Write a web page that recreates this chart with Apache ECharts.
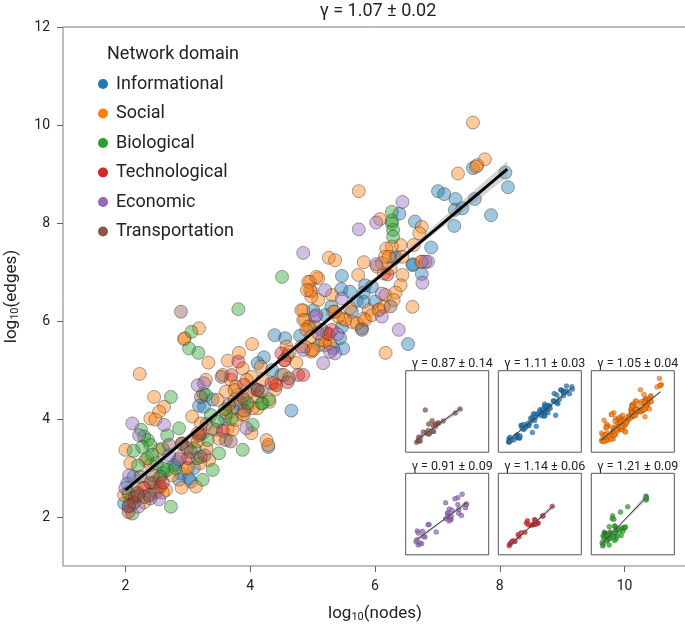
<!DOCTYPE html>
<html>
<head>
<meta charset="utf-8">
<script src="https://cdn.jsdelivr.net/npm/echarts@6/dist/echarts.min.js"></script>
<style>
  html, body { margin: 0; padding: 0; background: #fff; }
  #chart { width: 685px; height: 629px; }
</style>
</head>
<body>
<div id="chart"></div>
<script>
// domains, in legend order
const domains = ['Informational', 'Social', 'Biological', 'Technological', 'Economic', 'Transportation']
const colors = ['#1f77b4', '#ff7f0e', '#2ca02c', '#d62728', '#9467bd', '#8c564b']

const xTicks = [2, 4, 6, 8, 10]
const yTicks = [2, 4, 6, 8, 10, 12]

// log10(nodes), log10(edges) per network
const informational = [
  [7.57, 9.12], [8.09, 9.03], [8.13, 8.73], [7.01, 8.65], [7.11, 8.59], [7.29, 8.49], [7.60, 8.49],
  [7.28, 8.27], [7.86, 8.16], [7.27, 7.94], [6.39, 8.19], [6.64, 8.03], [6.33, 7.31], [6.61, 7.16],
  [6.75, 6.96], [6.60, 7.14], [6.32, 7.28], [5.47, 6.92], [5.46, 6.65], [5.84, 6.73], [5.82, 6.58],
  [5.71, 6.41], [5.95, 6.70], [5.82, 6.39], [5.63, 6.19], [5.20, 6.12], [5.47, 5.88], [5.79, 5.85],
  [5.44, 5.65], [5.49, 5.44], [5.33, 5.44], [6.53, 5.53], [5.01, 6.22], [5.15, 5.82], [4.39, 5.71],
  [4.56, 5.65], [4.22, 5.26], [4.12, 5.14], [4.06, 4.63], [3.85, 4.32], [4.66, 4.17], [3.18, 4.27],
  [3.26, 4.25], [3.45, 3.78], [4.29, 3.43], [3.72, 4.22], [3.96, 4.25], [2.83, 3.13], [2.89, 2.89],
  [2.86, 2.76], [3.05, 2.72], [2.78, 3.06], [3.02, 2.79], [2.03, 2.69], [2.05, 2.21], [2.13, 2.82],
  [1.98, 2.28], [4.35, 5.00], [4.60, 5.30], [5.60, 6.60], [6.00, 6.40], [3.60, 4.00], [3.30, 3.90],
  [2.50, 2.50], [3.10, 3.00], [4.80, 5.70], [5.30, 6.30], [4.95, 5.90], [2.20, 2.50], [7.40, 8.30],
  [6.90, 7.50], [3.40, 4.40], [2.60, 2.90], [4.50, 4.90], [5.10, 5.50], [2.10, 2.40], [3.80, 4.50]
]
const social = [
  [7.57, 10.05], [7.76, 9.30], [7.64, 9.18], [7.62, 9.15], [7.33, 9.01], [5.74, 8.65], [6.08, 8.08],
  [6.75, 7.92], [6.71, 7.79], [6.62, 7.55], [6.41, 7.55], [6.27, 7.52], [6.18, 7.48], [6.44, 7.31],
  [6.16, 7.31], [6.22, 7.31], [6.76, 7.21], [6.74, 7.21], [6.44, 6.94], [6.41, 6.73], [6.14, 6.97],
  [6.25, 7.07], [6.11, 7.18], [6.03, 7.11], [5.82, 7.20], [5.26, 7.29], [5.36, 7.24], [5.73, 6.94],
  [5.09, 6.87], [4.96, 6.80], [4.98, 6.60], [5.31, 6.53], [6.17, 6.53], [6.33, 6.58], [6.30, 6.43],
  [6.60, 6.29], [6.07, 6.24], [5.90, 6.22], [5.60, 6.26], [5.33, 6.19], [4.85, 6.22], [4.88, 6.02],
  [5.04, 5.88], [5.49, 6.05], [5.82, 6.05], [5.20, 5.58], [6.17, 5.35], [4.98, 5.37], [4.93, 6.80],
  [5.06, 6.90], [4.96, 6.63], [5.09, 6.43], [4.98, 6.50], [4.91, 6.63], [4.82, 6.22], [4.85, 6.02],
  [4.93, 5.88], [5.23, 5.75], [5.20, 5.51], [4.98, 5.41], [4.88, 5.48], [4.90, 5.82], [4.98, 5.68],
  [5.15, 5.61], [5.28, 5.54], [5.01, 5.41], [4.82, 5.48], [5.63, 5.98], [5.71, 5.95], [5.84, 6.02],
  [5.95, 6.12], [6.06, 6.22], [6.14, 6.29], [5.52, 6.02], [5.41, 6.09], [5.36, 6.19],
  [3.18, 5.85], [2.95, 5.65], [2.94, 5.63], [3.33, 5.15], [3.82, 5.35], [4.03, 5.53], [3.64, 5.19],
  [3.88, 5.03], [3.56, 4.90], [3.69, 4.80], [3.77, 4.66], [3.61, 4.56], [3.29, 4.80], [2.62, 4.25],
  [4.58, 5.48], [4.63, 5.37], [4.74, 5.15], [4.55, 5.20], [4.54, 4.90], [4.39, 4.73], [4.17, 5.07],
  [4.02, 4.86], [4.12, 4.45], [3.94, 4.80], [3.75, 4.39], [4.31, 4.35], [2.23, 4.92],
  [2.46, 4.45], [2.54, 4.15], [2.40, 4.01], [2.48, 3.99], [2.00, 3.37], [2.08, 3.10], [2.54, 3.37],
  [2.32, 3.16], [2.40, 3.06], [3.07, 3.54], [3.16, 3.71], [3.13, 2.62], [2.97, 2.99], [3.34, 3.16],
  [2.05, 2.48], [2.08, 2.31], [2.27, 2.59], [2.19, 2.48], [2.38, 2.45], [2.48, 2.55], [2.54, 2.79],
  [2.65, 2.55], [1.98, 2.45], [3.07, 4.05], [3.21, 3.91], [3.24, 3.71], [3.16, 3.54], [3.64, 3.81],
  [3.72, 3.78], [3.77, 3.98], [3.88, 4.08], [4.02, 3.71], [4.26, 3.57], [4.29, 3.47], [3.96, 4.52],
  [3.91, 4.39], [3.75, 4.59], [4.12, 4.22], [4.04, 4.22], [3.48, 4.39], [3.67, 4.15], [3.61, 4.12],
  [2.89, 3.23], [3.00, 3.00], [3.20, 3.10], [2.60, 2.50], [2.75, 2.85], [2.30, 2.30], [2.90, 2.60],
  [3.30, 3.40], [3.50, 3.60], [3.90, 4.10], [4.40, 4.60], [4.20, 4.80], [3.40, 3.80]
]
const biological = [
  [6.27, 8.23], [6.27, 7.99], [6.29, 7.86], [6.29, 7.72], [6.27, 8.05], [4.51, 6.90], [3.81, 6.24],
  [3.06, 5.78], [3.02, 5.44], [3.17, 5.35], [3.25, 4.52], [2.73, 4.45], [2.25, 3.78], [2.30, 3.64],
  [2.86, 3.81], [2.36, 3.57], [2.40, 3.47], [2.27, 3.43], [2.13, 3.35], [2.67, 3.67], [2.43, 3.27],
  [2.62, 2.99], [2.67, 2.96], [2.56, 2.82], [3.24, 2.76], [3.40, 2.96], [2.73, 2.21], [2.11, 2.07],
  [3.29, 4.49], [3.37, 4.08], [3.48, 3.95], [3.32, 3.57], [3.88, 3.37], [4.04, 3.88], [4.20, 4.32],
  [3.96, 4.32], [4.18, 4.32], [3.50, 3.30], [2.90, 3.50], [3.10, 3.40], [2.15, 2.30], [2.50, 3.10],
  [2.80, 3.00], [3.60, 4.20], [4.30, 4.40], [2.35, 3.20], [2.20, 3.05], [2.45, 2.70], [3.15, 3.20],
  [2.05, 2.50], [3.70, 4.00], [2.60, 3.40]
]
const technological = [
  [5.31, 5.82], [3.81, 5.17], [4.50, 5.34], [4.77, 4.90], [4.85, 4.90], [4.34, 4.73], [4.42, 4.69],
  [4.12, 4.59], [2.91, 3.50], [2.13, 2.28], [2.56, 2.62], [2.05, 2.10], [2.15, 2.40], [2.40, 2.70],
  [2.60, 2.70], [3.20, 3.70], [3.56, 3.76], [3.00, 3.20], [3.70, 4.90], [3.90, 4.70], [4.55, 5.20],
  [4.60, 4.75], [5.26, 5.73], [6.20, 6.95], [2.30, 2.60]
]
const economic = [
  [4.85, 7.39], [6.44, 8.43], [6.02, 8.01], [6.85, 7.21], [6.76, 6.78], [6.02, 7.16], [5.20, 6.63],
  [5.47, 6.46], [6.11, 6.56], [5.04, 6.09], [6.11, 6.09], [6.38, 5.82], [4.85, 5.41], [5.06, 6.12],
  [5.36, 5.34], [5.28, 5.37], [5.17, 5.14], [5.09, 5.75], [3.16, 4.69], [3.26, 4.73], [2.11, 3.91],
  [2.62, 3.88], [3.94, 3.81], [2.21, 2.21], [2.00, 2.59], [5.74, 7.87], [6.81, 7.21], [2.38, 2.44],
  [2.54, 2.36], [2.86, 3.18], [2.70, 3.26], [2.22, 3.67], [5.40, 5.73], [2.06, 2.85]
]
const transportation = [
  [2.06, 2.23], [2.20, 2.44], [2.30, 2.41], [2.40, 2.38], [2.24, 2.82], [2.44, 2.85], [2.70, 3.47],
  [2.99, 3.40], [3.05, 3.33], [3.21, 3.23], [3.27, 3.26], [2.89, 6.19], [3.18, 3.67], [3.54, 4.86],
  [3.21, 4.45], [3.61, 3.57], [3.69, 3.54], [3.66, 4.29], [3.90, 4.17], [3.88, 4.45], [4.12, 4.59],
  [4.18, 4.56], [4.62, 4.83], [5.79, 5.82], [6.25, 6.30]
]
const domainData = [informational, social, biological, technological, economic, transportation]

// overall fit and its confidence band [x, low, high]
const fitMain = [[2.0, 2.55], [8.12, 9.1]]
const bandMain = [[2.0, 2.45, 2.65], [3.5, 4.12, 4.21], [5.0, 5.74, 5.80], [6.5, 7.33, 7.44], [8.12, 8.94, 9.26]]
const titleMain = 'γ = 1.07 ± 0.02'

// insets, row by row
const insetDomains = [5, 0, 1, 4, 3, 2]
const insetTitles = ['γ = 0.87 ± 0.14', 'γ = 1.11 ± 0.03', 'γ = 1.05 ± 0.04',
                     'γ = 0.91 ± 0.09', 'γ = 1.14 ± 0.06', 'γ = 1.21 ± 0.09']
const insetFits = [
  [[2.22, 2.65], [6.28, 6.35]],
  [[1.96, 2.44], [8.14, 8.94]],
  [[1.90, 2.44], [7.66, 8.41]],
  [[2.06, 2.85], [6.86, 7.38]],
  [[2.06, 2.11], [6.28, 6.97]],
  [[1.90, 2.23], [6.25, 8.00]]
]
const insetBands = [
  [[2.22, 2.30, 3.00], [4.25, 4.38, 4.62], [6.28, 5.90, 6.80]],
  [[1.96, 2.29, 2.59], [5.05, 5.64, 5.74], [8.14, 8.74, 9.14]],
  [[1.90, 2.34, 2.54], [4.80, 5.38, 5.46], [7.66, 8.23, 8.59]],
  [[2.06, 2.55, 3.15], [4.46, 5.00, 5.20], [6.86, 7.08, 7.68]],
  [[2.06, 1.81, 2.41], [4.17, 4.44, 4.64], [6.28, 6.62, 7.32]],
  [[1.90, 1.98, 2.48], [4.10, 4.98, 5.22], [6.25, 7.55, 8.45]]
]

const font = 'Roboto, "Noto Sans", sans-serif'
const textColor = '#222'

const insetLeft = [405.7, 498.3, 591.3]
const insetTop = [370.7, 473.3]
const insetW = 83
const insetH = 81.5

function bandSeries(band, idx) {
  return {
    type: 'custom',
    xAxisIndex: idx,
    yAxisIndex: idx,
    silent: true,
    z: 4,
    data: [[band[0][0], band[0][1]]],
    renderItem: (params, api) => {
      const upper = band.map(b => api.coord([b[0], b[2]]))
      const lower = band.map(b => api.coord([b[0], b[1]])).reverse()
      return {
        type: 'polygon',
        shape: { points: upper.concat(lower) },
        style: { fill: 'rgba(150,150,150,0.4)' }
      }
    }
  }
}

var chart = echarts.init(document.getElementById('chart'))

var grids = [{ left: 63, top: 27, right: -2, bottom: 63, outerBoundsMode: 'none', containLabel: false,
  show: true, borderColor: '#7a7a7a', borderWidth: 1 }]
var xAxes = [{
  type: 'value', gridIndex: 0, min: 1, max: 11,
  splitLine: { show: false }, axisLine: { show: false },
  axisTick: { show: true, length: 6, customValues: xTicks, lineStyle: { color: '#666' } },
  axisLabel: { customValues: xTicks, margin: 13, fontSize: 14, color: textColor, fontFamily: font },
  name: '{n|log}{s|10}{n|(nodes)}', nameLocation: 'middle', nameGap: 38,
  nameTextStyle: { rich: {
    n: { fontSize: 17, color: textColor, fontFamily: font },
    s: { fontSize: 11, color: textColor, fontFamily: font, padding: [8, 0, 0, 0] }
  } }
}]
var yAxes = [{
  type: 'value', gridIndex: 0, min: 1, max: 12,
  splitLine: { show: false }, axisLine: { show: false },
  axisTick: { show: true, length: 6, customValues: yTicks, lineStyle: { color: '#666' } },
  axisLabel: { customValues: yTicks, margin: 13, fontSize: 14, color: textColor, fontFamily: font },
  name: '{n|log}{s|10}{n|(edges)}', nameLocation: 'middle', nameGap: 42, nameRotate: 90,
  nameTextStyle: { rich: {
    n: { fontSize: 17, color: textColor, fontFamily: font },
    s: { fontSize: 11, color: textColor, fontFamily: font, padding: [8, 0, 0, 0] }
  } }
}]
var titles = [
  { text: titleMain, left: 373, top: -3, textAlign: 'center',
    textStyle: { fontSize: 18, fontWeight: 'normal', color: textColor, fontFamily: font } },
  { text: 'Network domain', left: 102, top: 40,
    textStyle: { fontSize: 18, fontWeight: 'normal', color: textColor, fontFamily: font } }
]
var series = []

// main scatter
domainData.forEach((pts, i) => {
  series.push({
    name: domains[i], type: 'scatter', xAxisIndex: 0, yAxisIndex: 0,
    data: pts, symbolSize: 13, z: 2,
    itemStyle: { color: colors[i], opacity: 0.42, borderColor: '#2a2a2a', borderWidth: 1 },
    emphasis: { disabled: true }
  })
})
series.push(bandSeries(bandMain, 0))
series.push({
  type: 'line', xAxisIndex: 0, yAxisIndex: 0, data: fitMain, showSymbol: false, z: 5, silent: true,
  lineStyle: { color: '#000', width: 3 }
})

// insets
insetDomains.forEach((d, k) => {
  const idx = k + 1
  const col = k % 3
  const row = Math.floor(k / 3)
  grids.push({ left: insetLeft[col], top: insetTop[row], width: insetW, height: insetH,
    outerBoundsMode: 'none', containLabel: false,
    show: true, backgroundColor: '#fff', borderColor: '#555', borderWidth: 1 })
  xAxes.push({ type: 'value', gridIndex: idx, min: 1, max: 9, show: false })
  yAxes.push({ type: 'value', gridIndex: idx, min: 1, max: 11, show: false })
  titles.push({ text: insetTitles[k], left: insetLeft[col] + insetW / 2, top: insetTop[row] - 18,
    textAlign: 'center', textStyle: { fontSize: 12.5, fontWeight: 'normal', color: textColor, fontFamily: font } })
  series.push({
    name: domains[d], type: 'scatter', xAxisIndex: idx, yAxisIndex: idx,
    data: domainData[d], symbolSize: 5, z: 3,
    itemStyle: { color: colors[d], opacity: 0.75, borderColor: 'rgba(0,0,0,0.4)', borderWidth: 0.5 },
    emphasis: { disabled: true }
  })
  series.push(bandSeries(insetBands[k], idx))
  series.push({
    type: 'line', xAxisIndex: idx, yAxisIndex: idx, data: insetFits[k], showSymbol: false, z: 5, silent: true,
    lineStyle: { color: '#333', width: 1 }
  })
})

var option = {
  animation: false,
  backgroundColor: '#fff',
  title: titles,
  legend: {
    orient: 'vertical', left: 98, top: 74, padding: 0, itemWidth: 10, itemHeight: 10, itemGap: 9.5,
    selectedMode: false, icon: 'circle',
    data: domains.map((d, i) => ({ name: d, itemStyle: { color: colors[i], opacity: 1, borderWidth: 0 } })),
    textStyle: { fontSize: 18, lineHeight: 20, color: textColor, fontFamily: font, padding: [0, 0, 0, 3] }
  },
  grid: grids,
  xAxis: xAxes,
  yAxis: yAxes,
  series: series
}
chart.setOption(option)
</script>
</body>
</html>
